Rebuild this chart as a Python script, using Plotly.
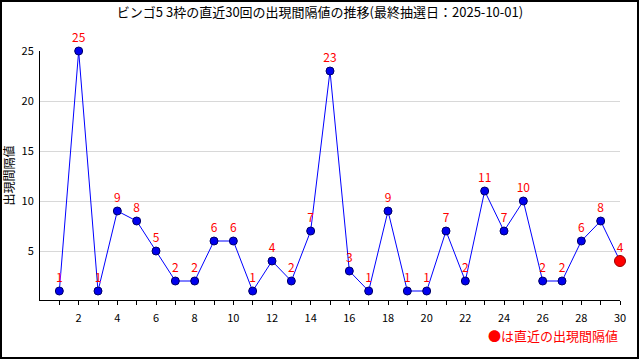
import plotly.graph_objects as go

draws = list(range(1, 31))
intervals = [1, 25, 1, 9, 8, 5, 2, 2, 6, 6, 1, 4, 2, 7, 23, 3, 1, 9, 1, 1, 7, 2, 11, 7, 10, 2, 2, 6, 8, 4]
title_text = "ビンゴ5 3枠の直近30回の出現間隔値の推移(最終抽選日：2025-10-01)"
y_title = "出現間隔値"
note_text = "●は直近の出現間隔値"
x_tickvals = list(range(2, 31, 2))
y_tickvals = [5, 10, 15, 20, 25]

font_jp = "Noto Sans CJK JP"
L, R, T, B = 40, 620, 51, 300
PW, PH = R - L, B - T

fig = go.Figure()
fig.add_trace(go.Scatter(
    x=draws, y=intervals, mode="lines+markers+text",
    line=dict(color="#0000ff", width=1),
    marker=dict(color="#0000ee", size=8, line=dict(color="#000066", width=1)),
    text=[str(v) for v in intervals], textposition="top center",
    textfont=dict(color="#ff0000", size=12, family=font_jp),
    cliponaxis=False, showlegend=False, hoverinfo="x+y",
))
fig.add_trace(go.Scatter(
    x=[draws[-1]], y=[intervals[-1]], mode="markers",
    marker=dict(color="#ff0000", size=11, line=dict(color="#990000", width=1)),
    cliponaxis=False, showlegend=False, hoverinfo="skip",
))

fig.update_layout(
    width=640, height=360, autosize=False,
    margin=dict(l=L, r=640 - R, t=T, b=360 - B, autoexpand=False),
    paper_bgcolor="white", plot_bgcolor="white",
    font=dict(family=font_jp, size=11, color="#000000"),
    title=dict(text=title_text, x=0.5, xanchor="center", y=1 - 12 / 360, yanchor="middle",
               font=dict(size=13, family=font_jp, color="#000000")),
    xaxis=dict(range=[0, 30], tickvals=x_tickvals, showgrid=False,
               showline=True, linecolor="black", linewidth=1,
               ticks="outside", ticklen=4, tickcolor="black",
               minor=dict(tickvals=draws, ticks="outside", ticklen=4, tickcolor="black", showgrid=False),
               zeroline=False, tickfont=dict(size=11), automargin=False,
               ticklabelstandoff=4),
    yaxis=dict(range=[0.1, 25], tickvals=y_tickvals, showgrid=True,
               gridcolor="#d8d8d8", gridwidth=1,
               showline=True, linecolor="black", linewidth=1,
               ticks="", zeroline=False, tickfont=dict(size=11), automargin=False,
               ticklabelstandoff=3,
               title=dict(text=y_title, standoff=4, font=dict(size=12))),
    shapes=[dict(type="rect", xref="paper", yref="paper",
                 x0=(1 - L) / PW, x1=(638 - L) / PW,
                 y0=-(358 - B) / PH, y1=1 + (T - 1) / PH,
                 line=dict(color="black", width=2))],
    annotations=[dict(text=note_text, xref="paper", yref="paper",
                      x=1.0, y=-(335 - B) / PH, xanchor="right", yanchor="middle",
                      showarrow=False, font=dict(color="#ff0000", size=13, family=font_jp))],
)
fig.write_html("out.html", config={"displayModeBar": False},
               post_script="document.body.style.margin='0';document.body.style.overflow='hidden';")
